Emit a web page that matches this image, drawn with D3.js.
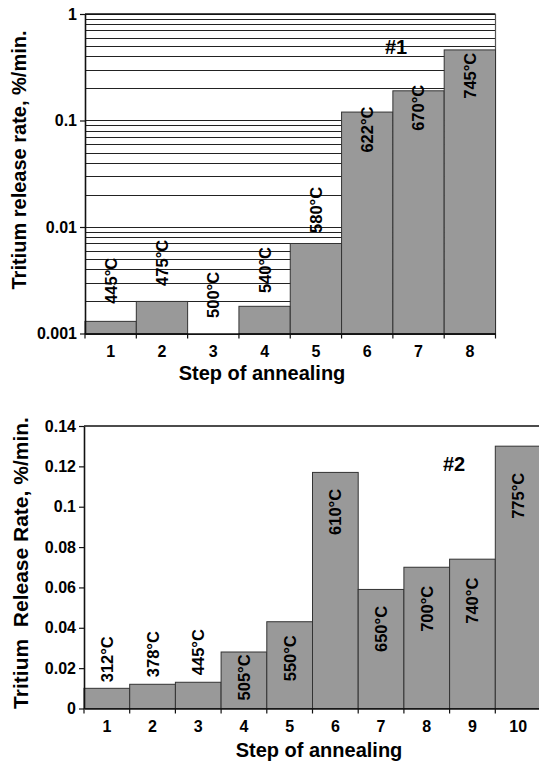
<!DOCTYPE html>
<html>
<head>
  <meta charset="UTF-8">
  <style>
body {
    margin: 0;
    padding: 0;
    background-color: white;
}
svg text {
    font-family: Arial, "Liberation Sans", sans-serif;
    font-weight: bold;
    fill: black;
}
  </style>
</head>
<body>
<svg id="chart"></svg>

<script src="https://d3js.org/d3.v7.min.js"></script>
<script>

// ---- data: sample #1 (log scale) ----
const steps1 = [1, 2, 3, 4, 5, 6, 7, 8];
const rate1 = [0.0013, 0.002, null, 0.0018, 0.007, 0.12, 0.19, 0.46];
const temps1 = ["445°C", "475°C", "500°C", "540°C", "580°C", "622°C", "670°C", "745°C"];
const yTicks1 = [0.001, 0.01, 0.1, 1];
const yTickLabels1 = ["0.001", "0.01", "0.1", "1"];

// ---- data: sample #2 (linear scale) ----
const steps2 = [1, 2, 3, 4, 5, 6, 7, 8, 9, 10];
const rate2 = [0.010, 0.012, 0.013, 0.028, 0.043, 0.117, 0.059, 0.070, 0.074, 0.130];
const temps2 = ["312°C", "378°C", "445°C", "505°C", "550°C", "610°C", "650°C", "700°C", "740°C", "775°C"];
const yTicks2 = [0, 0.02, 0.04, 0.06, 0.08, 0.1, 0.12, 0.14];
const yTickLabels2 = ["0", "0.02", "0.04", "0.06", "0.08", "0.1", "0.12", "0.14"];

// where each temperature label starts (lower end of the rotated text), in data units
const labelAt1 = [0.0019, 0.0028, 0.0014, 0.0024, 0.0088, 0.05, 0.08, 0.16];
const labelAt2 = [0.013, 0.0155, 0.0165, 0.004, 0.0135, 0.086, 0.028, 0.038, 0.042, 0.094];

let width = 539, height = 765;

let svg = d3.select("#chart")
    .attr("width", width)
    .attr("height", height);

const barFill = "#999999";
const barStroke = "#333333";

// draws one panel
function panel(opt) {
  let g = svg.append("g");
  let x = opt.x, y = opt.y;
  let [x0, x1] = x.range();
  let [yb, yt] = y.range();

  // grid lines (top panel only)
  if (opt.grid) {
    g.append("g")
      .selectAll("line")
      .data(opt.grid)
      .enter()
      .append("line")
      .attr("x1", x0).attr("x2", x1)
      .attr("y1", d => Math.round(y(d)) + 0.5)
      .attr("y2", d => Math.round(y(d)) + 0.5)
      .attr("stroke", "#222")
      .attr("stroke-width", 1);
  }

  // top border / right border
  g.append("line")
    .attr("x1", x0).attr("x2", x1)
    .attr("y1", yt).attr("y2", yt)
    .attr("stroke", "#111").attr("stroke-width", 1.6);
  if (opt.rightBorder) {
    g.append("line")
      .attr("x1", x1).attr("x2", x1)
      .attr("y1", yt).attr("y2", yb)
      .attr("stroke", "#555").attr("stroke-width", 1.2);
  }

  // bars
  let bars = opt.steps.map((s, i) => ({step: s, v: opt.values[i]}));
  g.append("g")
    .selectAll("rect")
    .data(bars.filter(d => d.v != null))
    .enter()
    .append("rect")
    .attr("x", d => x(d.step))
    .attr("width", x.bandwidth())
    .attr("y", d => y(d.v))
    .attr("height", d => yb - y(d.v))
    .attr("fill", barFill)
    .attr("stroke", barStroke)
    .attr("stroke-width", 1);

  // temperature labels
  g.append("g")
    .selectAll("text")
    .data(opt.steps)
    .enter()
    .append("text")
    .attr("transform", (d, i) => `translate(${x(d) + x.bandwidth() / 2}, ${y(opt.labelAt[i])}) rotate(-90)`)
    .attr("dy", "0.36em")
    .attr("font-size", "16.5px")
    .attr("text-anchor", "start")
    .text((d, i) => opt.temps[i]);

  // y axis
  let yAxis = g.append("g")
    .attr("transform", `translate(${x0}, 0)`)
    .call(d3.axisLeft(y)
      .tickValues(opt.yTicks)
      .tickFormat((d, i) => opt.yLabels[i])
      .tickSize(5)
      .tickSizeOuter(0)
      .tickPadding(3));
  yAxis.select(".domain").attr("stroke", "#111").attr("stroke-width", 1.6);
  yAxis.selectAll(".tick line").attr("stroke", "#111").attr("stroke-width", 1.2);
  yAxis.selectAll(".tick text")
    .attr("font-size", "16px")
    .attr("font-family", null)
    .attr("fill", "black");

  // x axis: labels centred in bands, ticks at band edges
  let xAxis = g.append("g")
    .attr("transform", `translate(0, ${yb})`)
    .call(d3.axisBottom(x).tickSize(0).tickPadding(12));
  xAxis.select(".domain").attr("stroke", "#111").attr("stroke-width", 1.6);
  xAxis.selectAll(".tick text")
    .attr("font-size", "16px")
    .attr("font-family", null)
    .attr("fill", "black");

  let edges = opt.steps.map(s => x(s)).concat([x(opt.steps[opt.steps.length - 1]) + x.bandwidth()]);
  xAxis.selectAll(".edge")
    .data(edges)
    .enter()
    .append("line")
    .attr("class", "edge")
    .attr("x1", d => d).attr("x2", d => d)
    .attr("y1", 0).attr("y2", 5)
    .attr("stroke", "#111").attr("stroke-width", 1.2);

  // titles
  g.append("text")
    .attr("x", opt.xTitlePos[0])
    .attr("y", opt.xTitlePos[1])
    .attr("text-anchor", "middle")
    .attr("font-size", "20px")
    .text("Step of annealing");

  g.append("text")
    .attr("transform", `translate(${opt.yTitlePos[0]}, ${opt.yTitlePos[1]}) rotate(-90)`)
    .attr("text-anchor", "middle")
    .attr("font-size", opt.yTitleSize)
    .style("white-space", "pre")
    .text(opt.yTitle);

  g.append("text")
    .attr("x", opt.tagPos[0])
    .attr("y", opt.tagPos[1])
    .attr("font-size", "20px")
    .text(opt.tag);
}

// ---- panel #1 ----
let x1 = d3.scaleBand().domain(steps1).range([85, 495.5]).padding(0);
let y1 = d3.scaleLog().domain([0.001, 1]).range([333.5, 14]);

panel({
  x: x1, y: y1,
  steps: steps1, values: rate1, temps: temps1, labelAt: labelAt1,
  yTicks: yTicks1, yLabels: yTickLabels1,
  grid: y1.ticks(),
  rightBorder: true,
  xTitlePos: [262, 380],
  yTitlePos: [26, 160],
  yTitleSize: "20px",
  yTitle: "Tritium release rate, %/min.",
  tag: "#1",
  tagPos: [385, 54]
});

// ---- panel #2 ----
let x2 = d3.scaleBand().domain(steps2).range([84, 541]).padding(0);
let y2 = d3.scaleLinear().domain([0, 0.14]).range([708.5, 426]);

panel({
  x: x2, y: y2,
  steps: steps2, values: rate2, temps: temps2, labelAt: labelAt2,
  yTicks: yTicks2, yLabels: yTickLabels2,
  grid: null,
  rightBorder: false,
  xTitlePos: [319, 757],
  yTitlePos: [28, 563],
  yTitleSize: "21px",
  yTitle: "Tritium  Release Rate, %/min.",
  tag: "#2",
  tagPos: [443, 471]
});

</script>
</body>
</html>
